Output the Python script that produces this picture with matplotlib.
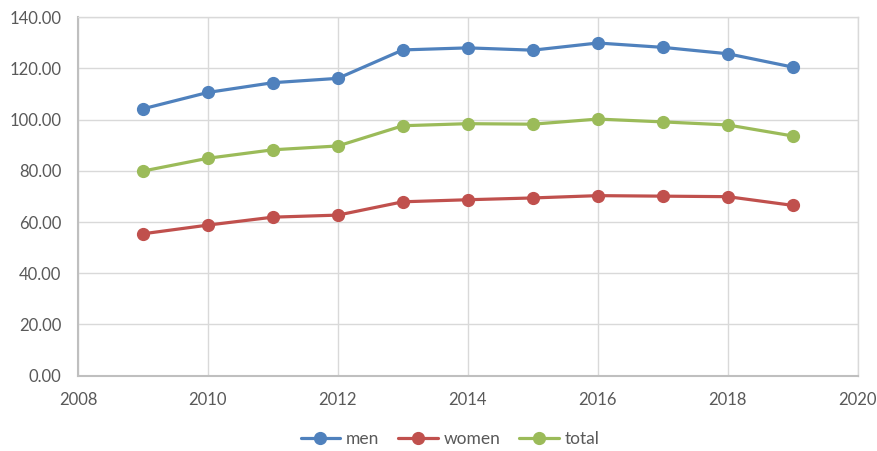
import matplotlib.pyplot as plt
from matplotlib.ticker import FormatStrFormatter

years = [2009, 2010, 2011, 2012, 2013, 2014, 2015, 2016, 2017, 2018, 2019]
men = [104.2, 110.6, 114.4, 116.1, 127.2, 128.0, 127.1, 129.9, 128.2, 125.7, 120.5]
women = [55.4, 58.8, 61.9, 62.7, 67.9, 68.7, 69.4, 70.3, 70.1, 69.9, 66.5]
total = [79.9, 84.9, 88.2, 89.7, 97.6, 98.4, 98.2, 100.2, 99.1, 97.9, 93.6]

plt.rcParams["font.family"] = ["Lato", "DejaVu Sans"]

fig = plt.figure(figsize=(8.77, 4.51), dpi=100)
ax = fig.add_axes([0.0889, 0.167, 0.978 - 0.0889, 0.962 - 0.167])

series = [("men", men, "#4F81BD"), ("women", women, "#C0504D"), ("total", total, "#9BBB59")]
for name, vals, col in series:
    ax.plot(years, vals, color=col, lw=2.3, marker="o", markersize=8.5,
            label=name, solid_capstyle="round")

ax.set_xlim(2008, 2020)
ax.set_ylim(0, 140)
ax.set_xticks(range(2008, 2021, 2))
ax.set_yticks(range(0, 141, 20))
ax.yaxis.set_major_formatter(FormatStrFormatter("%.2f"))

ax.grid(True, color="#D9D9D9", lw=1.0)
ax.set_axisbelow(True)
for s in ["top", "right"]:
    ax.spines[s].set_color("#D9D9D9")
    ax.spines[s].set_linewidth(1.0)
for s in ["left", "bottom"]:
    ax.spines[s].set_color("#BFBFBF")
    ax.spines[s].set_linewidth(1.5)

ax.tick_params(length=0, labelsize=12, labelcolor="#595959")
ax.tick_params(axis="y", pad=12)
ax.tick_params(axis="x", pad=12)

fig.legend(loc="center", bbox_to_anchor=(0.513, 0.026), ncol=3, frameon=False,
           fontsize=12.5, handlelength=2.3, columnspacing=1.1, handletextpad=0.3,
           labelcolor="#595959")

fig.savefig("out.png", dpi=100)
